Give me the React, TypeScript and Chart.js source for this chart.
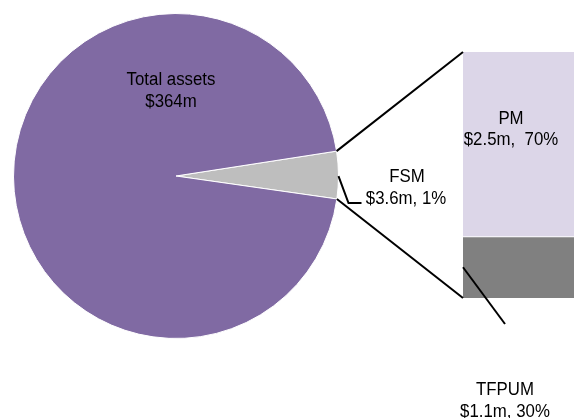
import React, { useEffect, useRef } from "react";
import { Chart, registerables } from "chart.js";

Chart.register(...registerables);

// ---- data ----
const pieLabels = ["FSM", "Total assets"];
const pieShares = [4.7, 95.3]; // visual share of the pie, %
const pieColors = ["#BEBEBE", "#806AA3"];

const barLabels = ["TFPUM", "PM"];
const barShares = [25, 75]; // visual share of the bar, %
const barColors = ["#808080", "#DCD6E8"];

const totalText = ["Total assets", "$364m"];
const fsmText = ["FSM", "$3.6m, 1%"];
const pmText = ["PM", "$2.5m,  70%"];
const tfpumText = ["TFPUM", "$1.1m, 30%"];

const W = 574;
const H = 418;
const FONT = "18px 'Liberation Sans', Arial, sans-serif";
const SQUEEZE = 0.935;

export default function App() {
  const barRef = useRef<HTMLCanvasElement | null>(null);
  const pieRef = useRef<HTMLCanvasElement | null>(null);

  useEffect(() => {
    if (!barRef.current || !pieRef.current) return;

    const barChart = new Chart(barRef.current, {
      type: "bar",
      data: {
        labels: ["Second plot"],
        datasets: [
          {
            label: barLabels[0],
            data: [barShares[0]],
            backgroundColor: barColors[0],
            borderColor: "#ffffff",
            borderWidth: { top: 1, left: 0, right: 0, bottom: 0 },
            borderSkipped: false,
          },
          {
            label: barLabels[1],
            data: [barShares[1]],
            backgroundColor: barColors[1],
            borderWidth: 0,
          },
        ],
      },
      options: {
        responsive: false,
        animation: false,
        layout: { padding: { left: 463, top: 52, right: 0, bottom: 120 } },
        datasets: { bar: { barPercentage: 1, categoryPercentage: 1 } },
        scales: {
          x: { display: false, stacked: true },
          y: { display: false, stacked: true, min: 0, max: 100 },
        },
        plugins: { legend: { display: false }, tooltip: { enabled: false } },
      },
    } as any);

    const text = (ctx: CanvasRenderingContext2D, s: string, x: number, y: number) => {
      ctx.save();
      ctx.translate(x, y);
      ctx.scale(SQUEEZE, 1);
      ctx.fillText(s, 0, 0);
      ctx.restore();
    };

    const overlay = {
      id: "pieOfBarOverlay",
      afterDraw(chart: any) {
        const ctx = chart.ctx as CanvasRenderingContext2D;
        const arc = chart.getDatasetMeta(0).data[0];
        const a = arc.getProps(["x", "y", "startAngle", "endAngle", "outerRadius"], true);
        const p1 = [a.x + a.outerRadius * Math.cos(a.startAngle), a.y + a.outerRadius * Math.sin(a.startAngle)];
        const p2 = [a.x + a.outerRadius * Math.cos(a.endAngle), a.y + a.outerRadius * Math.sin(a.endAngle)];
        const mid = (a.startAngle + a.endAngle) / 2;
        const pm = [a.x + a.outerRadius * Math.cos(mid), a.y + a.outerRadius * Math.sin(mid)];

        const dark = barChart.getDatasetMeta(0).data[0] as any;
        const light = barChart.getDatasetMeta(1).data[0] as any;
        const lp = light.getProps(["x", "y", "base", "width"], true);
        const dp = dark.getProps(["x", "y", "base", "width"], true);
        const left = lp.x - lp.width / 2;

        ctx.save();
        ctx.strokeStyle = "#000000";
        ctx.lineWidth = 2;
        ctx.lineCap = "butt";
        // connector lines pie -> bar
        ctx.beginPath();
        ctx.moveTo(p1[0], p1[1]);
        ctx.lineTo(left, lp.y);
        ctx.moveTo(p2[0], p2[1]);
        ctx.lineTo(left, dp.base);
        ctx.stroke();

        // FSM leader
        ctx.beginPath();
        ctx.moveTo(pm[0], pm[1] + 1);
        ctx.lineTo(pm[0] + 10, pm[1] + 28);
        ctx.lineTo(pm[0] + 23, pm[1] + 28);
        ctx.stroke();

        // TFPUM leader
        ctx.beginPath();
        ctx.moveTo(left, (dp.y + dp.base) / 2);
        ctx.lineTo(505, 324);
        ctx.stroke();

        // labels
        ctx.fillStyle = "#000000";
        ctx.font = FONT;
        ctx.textAlign = "center";
        ctx.textBaseline = "alphabetic";
        text(ctx, totalText[0], a.x - 5, 85);
        text(ctx, totalText[1], a.x - 5, 107);
        text(ctx, fsmText[0], 407, 182);
        text(ctx, fsmText[1], 406, 204);
        text(ctx, pmText[0], 511, 124);
        text(ctx, pmText[1], 511, 145);
        text(ctx, tfpumText[0], 505, 395);
        text(ctx, tfpumText[1], 505, 417);
        ctx.restore();
      },
    };

    const pieChart = new Chart(pieRef.current, {
      type: "pie",
      data: {
        labels: pieLabels,
        datasets: [
          {
            data: pieShares,
            backgroundColor: pieColors,
            borderColor: "#ffffff",
            borderWidth: 1,
          },
        ],
      },
      options: {
        responsive: false,
        animation: false,
        rotation: 81.2,
        layout: { padding: { left: 13, top: 13, right: 235, bottom: 79 } },
        plugins: { legend: { display: false }, tooltip: { enabled: false } },
      },
      plugins: [overlay],
    } as any);

    return () => {
      pieChart.destroy();
      barChart.destroy();
    };
  }, []);

  return (
    <div
      style={{
        position: "fixed",
        left: 0,
        top: 0,
        width: W,
        height: H,
        overflow: "hidden",
        background: "#ffffff",
      }}
    >
      <canvas ref={barRef} width={W} height={H} style={{ position: "absolute", left: 0, top: 0, width: W, height: H }} />
      <canvas ref={pieRef} width={W} height={H} style={{ position: "absolute", left: 0, top: 0, width: W, height: H }} />
    </div>
  );
}
